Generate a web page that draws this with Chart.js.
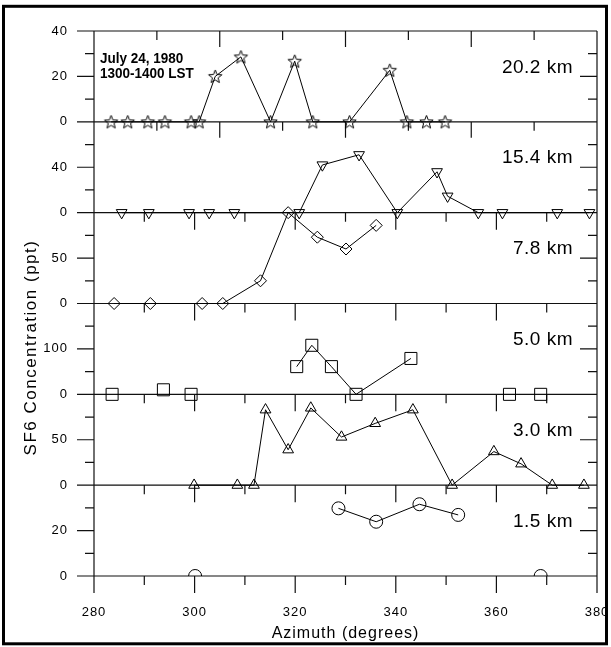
<!DOCTYPE html>
<html>
<head>
<meta charset="utf-8">
<script src="https://cdn.jsdelivr.net/npm/chart.js@4.4.0/dist/chart.umd.min.js"></script>
<style>
  html, body { margin: 0; padding: 0; background: #fff; }
  canvas { display: block; }
</style>
</head>
<body>
<canvas id="sf6" width="611" height="647"></canvas>
<script>
// one row per flight level, top to bottom
var panelNames = ['20.2 km', '15.4 km', '7.8 km', '5.0 km', '3.0 km', '1.5 km']
var panelMax = [40, 80, 100, 200, 100, 40]   // ppt at the top of each row
// labels of the single y axis, bottom to top (each row is 2 units tall)
var yTickLabels = ['0', '20', '0', '50', '0', '100', '0', '50', '0', '40', '0', '20', '40']
var xTicksRows = [280, 290, 300, 310, 320, 330, 340, 350, 360, 370, 380]
var xTicksTop = [280, 292.5, 305, 317.5, 330, 342.5, 355, 367.5, 380]

// azimuth (deg) / SF6 (ppt); lineXX = first and last index joined by a line
var az202 = [283.4, 286.7, 290.7, 294.1, 299.3, 300.9, 304.1, 309.2, 315.1, 319.9, 323.5, 330.8, 338.8, 342.2, 346.1, 349.8]
var sf202 = [0, 0, 0, 0, 0, 0, 20, 28.6, 0, 26.7, 0, 0, 22.7, 0, 0, 0]
var line202 = [0, 15]

var az154 = [285.5, 290.9, 298.9, 302.9, 307.9, 320.8, 325.4, 332.7, 340.3, 348.2, 350.3, 356.4, 361.2, 372.1, 378.5]
var sf154 = [0, 0, 0, 0, 0, 0, 42, 51, 0, 36, 14.5, 0, 0, 0, 0]
var line154 = [0, 14]

var az78 = [284.0, 291.2, 301.5, 305.6, 313.1, 318.6, 324.4, 330.1, 336.1]
var sf78 = [0, 0, 0, 0, 25, 100, 73, 60, 86]
var line78 = [0, 8]

var az50 = [283.6, 293.8, 299.3, 320.3, 323.3, 327.2, 332.1, 343.0, 362.6, 368.8]
var sf50 = [0, 10, 0, 61, 108, 61, 0, 79, 0, 0]
var line50 = [3, 7]

var az30 = [299.9, 308.5, 311.8, 314.1, 318.6, 323.1, 329.2, 335.9, 343.4, 351.2, 359.5, 364.9, 371.1, 377.4]
var sf30 = [0, 0, 0, 83, 39, 85, 53, 68, 83, 0, 37, 23.5, 0, 0]
var line30 = [0, 13]

var az15 = [300.1, 328.6, 336.1, 344.7, 352.4, 368.8]
var sf15 = [0, 29.8, 23.9, 31.6, 26.9, 0]
var line15 = [1, 4]

// hollow star marker
function starMarker() {
  var c = document.createElement('canvas')
  c.width = 17; c.height = 17
  var g = c.getContext('2d')
  g.strokeStyle = '#000'
  g.lineWidth = 1
  g.beginPath()
  for (var i = 0; i < 10; i++) {
    var r = i % 2 === 0 ? 7 : 3
    var a = -Math.PI / 2 + i * Math.PI / 5
    var px = 8.5 + r * Math.cos(a), py = 9 + r * Math.sin(a)
    if (i === 0) g.moveTo(px, py); else g.lineTo(px, py)
  }
  g.closePath()
  g.stroke()
  return c
}

var rows = [
  { az: az202, sf: sf202, run: line202, style: starMarker(), radius: 7, rot: 0 },
  { az: az154, sf: sf154, run: line154, style: 'triangle', radius: 6.2, rot: 180 },
  { az: az78, sf: sf78, run: line78, style: 'rectRot', radius: 6, rot: 0 },
  { az: az50, sf: sf50, run: line50, style: 'rect', radius: 8.5, rot: 0 },
  { az: az30, sf: sf30, run: line30, style: 'triangle', radius: 6.2, rot: 0 },
  { az: az15, sf: sf15, run: line15, style: 'circle', radius: 6.5, rot: 0 }
]

var datasets = []
rows.forEach(function(row, i) {
  var base = 2 * (panelNames.length - 1 - i)
  var pts = row.az.map(function(a, k) {
    return { x: a, y: base + row.sf[k] / panelMax[i] * 2 }
  })
  datasets.push({
    data: pts.slice(row.run[0], row.run[1] + 1),
    showLine: true,
    borderColor: '#000',
    borderWidth: 1,
    pointRadius: 0
  })
  datasets.push({
    data: pts,
    showLine: false,
    pointStyle: row.style,
    pointRadius: row.radius,
    pointRotation: row.rot,
    pointBorderColor: '#000',
    pointBorderWidth: 1,
    pointBackgroundColor: 'rgba(0,0,0,0)'
  })
})

var axesPlugin = {
  id: 'axesPlugin',
  beforeDraw: function(chart) {
    chart.ctx.letterSpacing = '1px'
  },
  beforeDatasetsDraw: function(chart) {
    var ctx = chart.ctx, a = chart.chartArea, xs = chart.scales.x, ys = chart.scales.y
    ctx.save()
    ctx.strokeStyle = '#111'
    ctx.lineWidth = 1.2
    ctx.beginPath()
    for (var p = 0; p <= 12; p += 0.5) {
      var py = ys.getPixelForValue(p)
      if (p % 2 === 0) {
        ctx.moveTo(a.left - 17, py); ctx.lineTo(a.right, py)
      } else if (p % 1 === 0) {
        ctx.moveTo(a.left - 17, py); ctx.lineTo(a.left, py)
        ctx.moveTo(a.right - 17, py); ctx.lineTo(a.right, py)
      } else {
        ctx.moveTo(a.left - 9, py); ctx.lineTo(a.left, py)
        ctx.moveTo(a.right - 9, py); ctx.lineTo(a.right, py)
      }
    }
    ctx.moveTo(a.left, a.top); ctx.lineTo(a.left, a.bottom + 17)
    ctx.moveTo(a.right, a.top); ctx.lineTo(a.right, a.bottom + 17)
    // x ticks under every row's zero line
    for (var r = 0; r <= 8; r += 2) {
      var y0 = ys.getPixelForValue(r)
      xTicksRows.forEach(function(d) {
        var px = xs.getPixelForValue(d)
        ctx.moveTo(px, y0); ctx.lineTo(px, y0 + (d % 20 === 0 ? 17 : 9))
      })
    }
    // top row has its own coarser ticks, top and bottom
    ;[10, 12].forEach(function(r) {
      var y0 = ys.getPixelForValue(r)
      xTicksTop.forEach(function(d, k) {
        var px = xs.getPixelForValue(d)
        ctx.moveTo(px, y0); ctx.lineTo(px, y0 + (k % 2 === 0 ? 16 : 9))
      })
    })
    ctx.stroke()
    ctx.restore()
  },
  afterDraw: function(chart) {
    var ctx = chart.ctx, ys = chart.scales.y
    ctx.save()
    ctx.fillStyle = '#000'

    // row names
    ctx.font = '19px "Liberation Sans", Arial, sans-serif'
    ctx.letterSpacing = '0.5px'
    ctx.textAlign = 'right'
    ctx.textBaseline = 'middle'
    panelNames.forEach(function(name, i) {
      var base = 2 * (panelNames.length - 1 - i)
      ctx.fillText(name, 573, ys.getPixelForValue(base + 1.2))
    })

    // date note
    ctx.save()
    ctx.font = 'bold 15px "Liberation Sans", Arial, sans-serif'
    ctx.letterSpacing = '0px'
    ctx.textAlign = 'left'
    ctx.textBaseline = 'alphabetic'
    ctx.translate(100, 0)
    ctx.scale(0.9, 1)
    ctx.fillText('July 24, 1980', 0, 62.5)
    ctx.fillText('1300-1400 LST', 0, 78.3)
    ctx.restore()

    // y title
    ctx.save()
    ctx.font = '17px "Liberation Sans", Arial, sans-serif'
    ctx.letterSpacing = '1.5px'
    ctx.textAlign = 'center'
    ctx.textBaseline = 'alphabetic'
    ctx.translate(35.5, 347.5)
    ctx.rotate(-Math.PI / 2)
    ctx.fillText('SF6 Concentration (ppt)', 0, 0)
    ctx.restore()

    // outer frame
    ctx.strokeStyle = '#000'
    ctx.lineWidth = 3
    ctx.strokeRect(3.5, 6.3, 603, 637.5)
    ctx.restore()
  }
}

Chart.defaults.font.family = '"Liberation Sans", Arial, sans-serif'
Chart.defaults.color = '#000'

// invisible tick marks only used to push the labels away from the axis
function spacer(len) {
  return { display: true, drawOnChartArea: false, color: 'rgba(0,0,0,0)', tickLength: len }
}

var chart = new Chart(document.getElementById('sf6'), {
  type: 'scatter',
  data: { datasets: datasets },
  options: {
    responsive: false,
    animation: false,
    layout: { padding: { top: 31, right: 14, left: 0, bottom: 0 } },
    plugins: { legend: { display: false }, tooltip: { enabled: false } },
    scales: {
      x: {
        min: 280, max: 380,
        grid: spacer(29),
        border: { display: false },
        ticks: { stepSize: 20, padding: 0, maxRotation: 0, autoSkip: false, font: { size: 13 }, color: '#000' },
        title: { display: true, text: 'Azimuth (degrees)', font: { size: 16 }, color: '#000', padding: { top: 0, bottom: 4 } },
        afterFit: function(s) { s.height = 71 }
      },
      y: {
        min: 0, max: 12,
        grid: spacer(26),
        border: { display: false },
        ticks: {
          stepSize: 0.5, padding: 0, autoSkip: false, font: { size: 13 }, color: '#000',
          callback: function(v) { return Number.isInteger(v) ? yTickLabels[v] : '' }
        },
        afterFit: function(s) { s.width = 94 }
      }
    }
  },
  plugins: [axesPlugin]
})
</script>
</body>
</html>
